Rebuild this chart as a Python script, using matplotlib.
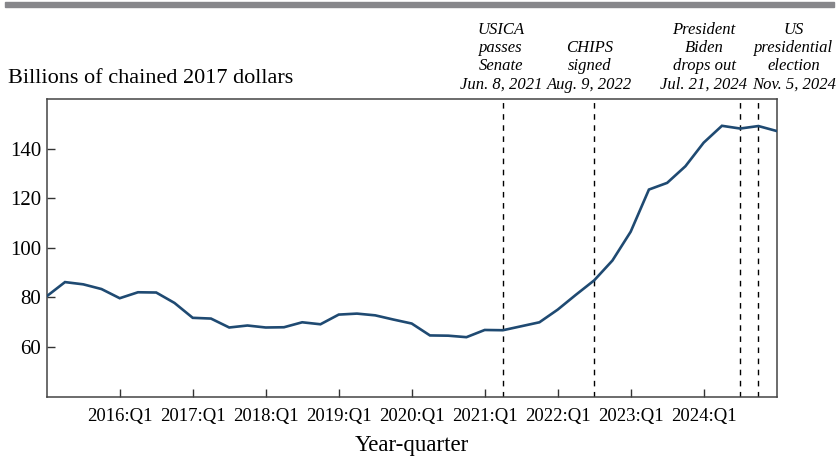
import matplotlib
matplotlib.use("Agg")
import matplotlib.pyplot as plt
from matplotlib.patches import Rectangle

plt.rcParams["font.family"] = ["Liberation Serif", "DejaVu Serif"]

# quarterly series, 2015:Q1 .. 2025:Q1
start_year = 2015
values = [80.5, 86.2, 85.3, 83.4,
          79.7, 82.1, 82.0, 77.8,
          71.8, 71.5, 67.9, 68.7,
          67.9, 68.0, 70.0, 69.2,
          73.1, 73.5, 72.8, 71.1,
          69.5, 64.7, 64.6, 64.0,
          66.9, 66.8, 68.4, 70.0,
          75.1, 81.1, 86.9, 94.9,
          106.5, 123.5, 126.2, 132.9,
          142.4, 149.2, 148.1, 149.1,
          147.1]
quarters = list(range(len(values)))

tick_years = list(range(2016, 2025))
tick_labels = [f"{y}:Q1" for y in tick_years]

# events: (quarter the event falls in, label, label offset in quarters)
event_quarters = [(2021, 2), (2022, 3), (2024, 3), (2024, 4)]
event_labels = [
    "USICA\npasses\nSenate\nJun. 8, 2021",
    "CHIPS\nsigned\nAug. 9, 2022",
    "President\nBiden\ndrops out\nJul. 21, 2024",
    "US\npresidential\nelection\nNov. 5, 2024",
]
label_shift = [-0.1, -0.25, -1.98, 1.95]


def qidx(year, q):
    return (year - start_year) * 4 + (q - 1)


fig = plt.figure(figsize=(8.39, 4.59), dpi=100)
ax = fig.add_axes([0.0557, 0.1357, 0.870, 0.6486])

# grey band along the top
fig.patches.append(Rectangle((0.006, 0.9854), 0.988, 0.011, transform=fig.transFigure,
                             color="#87878b", zorder=0))

ax.plot(quarters, values, color="#1f4a72", lw=1.9, solid_joinstyle="miter", zorder=3)

for (yr, q), lab, sh in zip(event_quarters, event_labels, label_shift):
    xq = qidx(yr, q)
    ax.axvline(xq, color="black", lw=1.0, ls=(0, (4, 4)), zorder=2)
    ax.text(xq + sh, 162.5, lab, ha="center", va="bottom", fontsize=12,
            style="italic", linespacing=1.2, clip_on=False)

ax.set_xlim(0, len(values) - 1)
ax.set_ylim(40, 160)
ax.set_xticks([qidx(y, 1) for y in tick_years])
ax.set_xticklabels(tick_labels)
ax.set_yticks([60, 80, 100, 120, 140])

ax.tick_params(direction="in", length=6, width=1.0, color="#333333")
ax.tick_params(axis="x", pad=8, labelsize=13.5)
ax.tick_params(axis="y", pad=4, labelsize=15)
for s in ax.spines.values():
    s.set_color("#444444")
    s.set_linewidth(1.1)

ax.set_xlabel("Year-quarter", fontsize=16.5, labelpad=7)
fig.text(0.009, 0.819, "Billions of chained 2017 dollars", fontsize=16,
         ha="left", va="baseline")

fig.savefig("out.png", dpi=100)
